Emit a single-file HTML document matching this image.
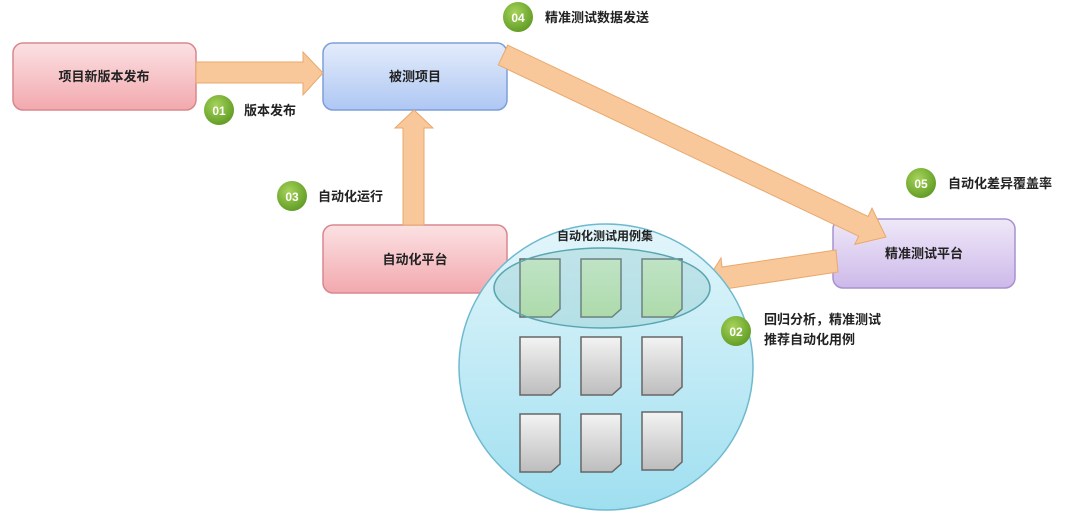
<!DOCTYPE html>
<html><head><meta charset="utf-8"><style>
html,body{margin:0;padding:0;background:#fff;}
svg text{font-family:"Liberation Sans","Noto Sans CJK SC",sans-serif;}
</style></head><body>
<svg width="1080" height="524" viewBox="0 0 1080 524" xmlns="http://www.w3.org/2000/svg">
<defs>
<linearGradient id="pink" x1="0" y1="0" x2="0" y2="1"><stop offset="0" stop-color="#fbe1e3"/><stop offset="1" stop-color="#f2a9ae"/></linearGradient>
<linearGradient id="blue" x1="0" y1="0" x2="0" y2="1"><stop offset="0" stop-color="#e4ecfb"/><stop offset="1" stop-color="#aec7f3"/></linearGradient>
<linearGradient id="purple" x1="0" y1="0" x2="0" y2="1"><stop offset="0" stop-color="#efe8f8"/><stop offset="1" stop-color="#cdb9ea"/></linearGradient>
<linearGradient id="circ" x1="0" y1="0" x2="0" y2="1"><stop offset="0" stop-color="#e3f6fb"/><stop offset="1" stop-color="#9fdff0"/></linearGradient>
<linearGradient id="gray" x1="0" y1="0" x2="0" y2="1"><stop offset="0" stop-color="#f3f3f3"/><stop offset="1" stop-color="#bdbdbd"/></linearGradient>
<linearGradient id="grn" x1="0" y1="0" x2="0" y2="1"><stop offset="0" stop-color="#dcf3c8"/><stop offset="1" stop-color="#c2e6a2"/></linearGradient>
<radialGradient id="gb" cx="0.4" cy="0.35" r="0.7"><stop offset="0" stop-color="#a6d35a"/><stop offset="1" stop-color="#5e9a22"/></radialGradient>
<symbol id="doc" viewBox="0 0 42 60"><path d="M1,1 H41 V51 L32,59 H1 Z" stroke="#666" stroke-width="1.5"/></symbol>
</defs>
<rect x="13" y="43" width="183" height="67" rx="10" fill="url(#pink)" stroke="#d9878e" stroke-width="1.5"/>
<rect x="323" y="43" width="184" height="67" rx="10" fill="url(#blue)" stroke="#7d9fd8" stroke-width="1.5"/>
<rect x="323" y="225" width="184" height="68" rx="10" fill="url(#pink)" stroke="#d9878e" stroke-width="1.5"/>
<rect x="833" y="219" width="182" height="69" rx="10" fill="url(#purple)" stroke="#a792cf" stroke-width="1.5"/>
<g font-size="13" font-weight="bold" fill="#222" text-anchor="middle">
<text x="104" y="81">项目新版本发布</text>
<text x="415" y="81">被测项目</text>
<text x="415" y="264">自动化平台</text>
<text x="924" y="258">精准测试平台</text>
</g>
<g fill="#f8c89a" stroke="#e9a86c" stroke-width="1">
<path d="M196,62 H303 V52 L323,73 L303,95 V83 H196 Z"/>
<path d="M403,225 V128 H395 L414,110 L433,128 H424 V225 Z"/>
<path d="M507.7,45.1 L868.1,216.4 L872,208.2 L886,237 L854.8,244.4 L858.7,236.2 L498.3,64.9 Z"/>
<path d="M836,250 L722,267 L721,258 L706,282 L727,300 L725,289 L838,272 Z"/>
</g>
<ellipse cx="606" cy="367" rx="147" ry="143" fill="url(#circ)" stroke="#6fb9cf" stroke-width="1.5"/>
<text x="605" y="240" font-size="12" font-weight="bold" fill="#222" text-anchor="middle">自动化测试用例集</text>
<g fill="url(#grn)">
<use href="#doc" x="519" y="258" width="42" height="60"/>
<use href="#doc" x="580" y="258" width="42" height="60"/>
<use href="#doc" x="641" y="258" width="42" height="60"/>
</g>
<g fill="url(#gray)">
<use href="#doc" x="519" y="336" width="42" height="60"/>
<use href="#doc" x="580" y="336" width="42" height="60"/>
<use href="#doc" x="641" y="336" width="42" height="60"/>
<use href="#doc" x="519" y="413" width="42" height="60"/>
<use href="#doc" x="580" y="413" width="42" height="60"/>
<use href="#doc" x="641" y="411" width="42" height="60"/>
</g>
<ellipse cx="602" cy="288" rx="108" ry="40" fill="#7fbfc0" fill-opacity="0.3" stroke="#5aa5b0" stroke-width="1.5"/>
<g font-size="12" font-weight="bold" fill="#fff" text-anchor="middle">
<circle cx="219" cy="110" r="15" fill="url(#gb)"/><text x="219" y="115">01</text>
<circle cx="292" cy="196" r="15" fill="url(#gb)"/><text x="292" y="201">03</text>
<circle cx="518" cy="17" r="15" fill="url(#gb)"/><text x="518" y="22">04</text>
<circle cx="921" cy="183" r="15" fill="url(#gb)"/><text x="921" y="188">05</text>
<circle cx="736" cy="331" r="15" fill="url(#gb)"/><text x="736" y="336">02</text>
</g>
<g font-size="13" font-weight="bold" fill="#222">
<text x="244" y="115">版本发布</text>
<text x="318" y="201">自动化运行</text>
<text x="545" y="22">精准测试数据发送</text>
<text x="948" y="188">自动化差异覆盖率</text>
<text x="764" y="324">回归分析，精准测试</text>
<text x="764" y="344">推荐自动化用例</text>
</g>
</svg>
</body></html>
